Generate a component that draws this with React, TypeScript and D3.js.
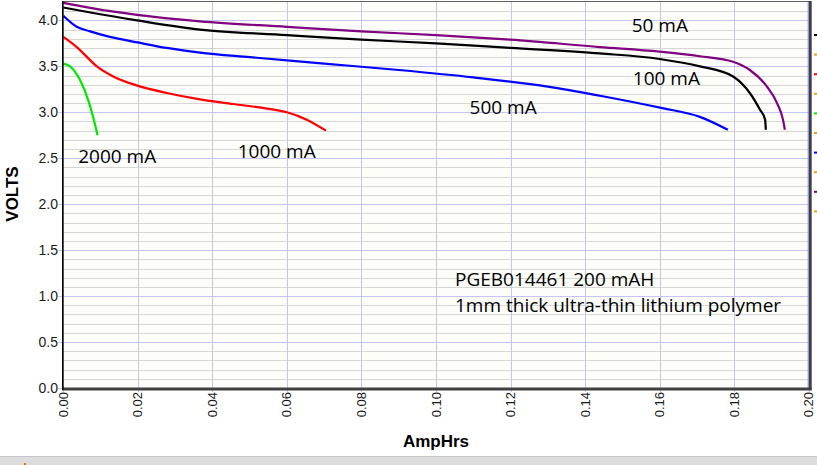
import React from "react";
import * as d3 from "d3";

const W = 817;
const H = 465;

// AmpHrs / Volts per discharge current
const ah50 = [0, 0.008, 0.0198, 0.0367, 0.06, 0.08, 0.10, 0.12, 0.144, 0.160, 0.1708, 0.1797, 0.1842, 0.1888, 0.1915, 0.1931, 0.1936];
const v50 = [4.19, 4.13, 4.06, 3.99, 3.93, 3.88, 3.84, 3.79, 3.71, 3.66, 3.61, 3.55, 3.46, 3.28, 3.10, 2.92, 2.81];

const ah100 = [0, 0.008, 0.0198, 0.0367, 0.06, 0.08, 0.10, 0.12, 0.144, 0.160, 0.1708, 0.1797, 0.1842, 0.1869, 0.1883, 0.1885];
const v100 = [4.14, 4.08, 4.00, 3.90, 3.84, 3.79, 3.75, 3.70, 3.64, 3.58, 3.50, 3.39, 3.21, 3.03, 2.92, 2.81];

const ah500 = [0, 0.0036, 0.0072, 0.0125, 0.0199, 0.0277, 0.0367, 0.05, 0.07, 0.09, 0.11, 0.13, 0.144, 0.1601, 0.1708, 0.1783];
const v500 = [4.05, 3.93, 3.88, 3.82, 3.76, 3.70, 3.65, 3.60, 3.53, 3.46, 3.38, 3.28, 3.18, 3.05, 2.95, 2.81];

const ah1000 = [0, 0.0036, 0.009, 0.0134, 0.0199, 0.0278, 0.0367, 0.0456, 0.0546, 0.060, 0.0653, 0.0705];
const v1000 = [3.82, 3.71, 3.50, 3.39, 3.29, 3.21, 3.14, 3.09, 3.04, 3.00, 2.92, 2.80];

const ah2000 = [0, 0.0018, 0.0045, 0.0067, 0.008, 0.0092];
const v2000 = [3.53, 3.50, 3.35, 3.13, 2.95, 2.75];

const seriesNames = ["50 mA", "100 mA", "500 mA", "1000 mA", "2000 mA"];
const seriesColors = ["#800080", "#000000", "#0000ff", "#ff0000", "#00e800"];
const seriesAh = [ah50, ah100, ah500, ah1000, ah2000];
const seriesV = [v50, v100, v500, v1000, v2000];
// label anchor points (AmpHrs, Volts) for the curve names
const labelAh = [0.1525, 0.1528, 0.1090, 0.0468, 0.0040];
const labelV = [3.87, 3.30, 2.98, 2.50, 2.45];

const xTicks = [0, 0.02, 0.04, 0.06, 0.08, 0.10, 0.12, 0.14, 0.16, 0.18, 0.20];
const yTicks = [0, 0.5, 1.0, 1.5, 2.0, 2.5, 3.0, 3.5, 4.0];
const yMinor = d3.range(0, 42).map((i) => i / 10);

const noteLines = ["PGEB014461 200 mAH", "1mm thick ultra-thin lithium polymer"];
const legendColors = ["#000000", "#f0a020", "#ff0000", "#f0a020", "#00e800", "#f0a020", "#0000ff", "#f0a020", "#800080", "#f0a020"];

export default function App() {
  const x = d3.scaleLinear().domain([0, 0.2]).range([63.3, 808.7]);
  const y = d3.scaleLinear().domain([0, 4.2]).range([388, 2]);
  const left = x(0);
  const right = x(0.2);
  const top = y(4.2);
  const bottom = y(0);

  const line = d3
    .line<[number, number]>()
    .x((d) => x(d[0]))
    .y((d) => y(d[1]))
    .curve(d3.curveMonotoneX);

  const tickFont = "'Liberation Sans', Arial, sans-serif";
  const noteFont = "'Open Sans', 'Noto Sans', sans-serif";

  return (
    <svg
      width={W}
      height={H}
      style={{ position: "absolute", left: 0, top: 0, background: "#ffffff" }}
    >
      <rect x={0} y={0} width={W} height={H} fill="#ffffff" />
      {/* plot background */}
      <rect x={left} y={top} width={right - left} height={bottom - top} fill="#fdfdfa" />

      {/* minor horizontal grid */}
      {yMinor.map((v, i) => (
        <line key={"m" + i} x1={left} x2={right} y1={Math.round(y(v)) + 0.5} y2={Math.round(y(v)) + 0.5} stroke="#d6d6d6" strokeWidth={1} />
      ))}
      {/* major horizontal grid */}
      {yTicks.map((v, i) => (
        <line key={"M" + i} x1={left - 5} x2={right} y1={Math.round(y(v)) + 0.5} y2={Math.round(y(v)) + 0.5} stroke="#c4c4f6" strokeWidth={1} />
      ))}
      {/* vertical grid */}
      {xTicks.map((v, i) => (
        <line key={"v" + i} x1={Math.round(x(v)) + 0.5} x2={Math.round(x(v)) + 0.5} y1={top} y2={bottom + 4} stroke="#c4c4f6" strokeWidth={1} />
      ))}

      {/* curves */}
      {seriesAh.map((a, i) => (
        <path
          key={"s" + i}
          d={line(a.map((ax, j) => [ax, seriesV[i][j]] as [number, number])) || ""}
          fill="none"
          stroke={seriesColors[i]}
          strokeWidth={2.2}
          strokeLinejoin="round"
        />
      ))}

      {/* frame */}
      <line x1={left} x2={right + 2} y1={top - 0.5} y2={top - 0.5} stroke="#606060" strokeWidth={1} />
      <line x1={right + 1.5} x2={right + 1.5} y1={top - 1} y2={bottom + 2} stroke="#404040" strokeWidth={3} />
      <line x1={right - 0.5} x2={right - 0.5} y1={top} y2={bottom} stroke="#8080ff" strokeWidth={1} />
      <line x1={left - 1} x2={right + 3} y1={bottom + 1} y2={bottom + 1} stroke="#404040" strokeWidth={3} />
      <line x1={left - 0.5} x2={left - 0.5} y1={top - 1} y2={bottom + 2} stroke="#000000" strokeWidth={1.6} />

      {/* y tick labels */}
      {yTicks.map((v, i) => (
        <text key={"yl" + i} x={58} y={y(v)} textAnchor="end" dominantBaseline="central" fontFamily={tickFont} fontSize={14} fill="#1a1a1a">
          {d3.format(".1f")(v)}
        </text>
      ))}
      {/* x tick labels */}
      {xTicks.map((v, i) => (
        <text
          key={"xl" + i}
          transform={`translate(${x(v)},${bottom + 4}) rotate(-90)`}
          textAnchor="end"
          dominantBaseline="central"
          fontFamily={tickFont}
          fontSize={13}
          fill="#1a1a1a"
        >
          {d3.format(".2f")(v)}
        </text>
      ))}

      {/* axis titles */}
      <text transform="translate(18,194) rotate(-90)" textAnchor="middle" fontFamily={tickFont} fontWeight="bold" fontSize={17} fill="#000">
        VOLTS
      </text>
      <text x={436} y={447} textAnchor="middle" fontFamily={tickFont} fontWeight="bold" fontSize={17} fill="#000">
        AmpHrs
      </text>

      {/* curve labels */}
      {seriesNames.map((n, i) => (
        <text key={"cl" + i} x={x(labelAh[i])} y={y(labelV[i])} fontFamily={noteFont} fontSize={19} fill="#000">
          {n}
        </text>
      ))}

      {/* note */}
      {noteLines.map((t, i) => (
        <text key={"n" + i} x={455} y={286 + i * 26} fontFamily={noteFont} fontSize={19} fill="#000">
          {t}
        </text>
      ))}

      {/* clipped legend marks on the right edge */}
      {legendColors.map((c, i) => (
        <rect key={"lg" + i} x={814} y={34 + i * 19.6} width={3} height={2} fill={c} />
      ))}

      {/* bottom status strip */}
      <rect x={0} y={456} width={W} height={9} fill="#dcdcdc" />
      <line x1={0} x2={W} y1={456.5} y2={456.5} stroke="#c4c4c4" strokeWidth={1} />
      <rect x={24} y={463} width={2} height={2} fill="#d08000" />
    </svg>
  );
}
